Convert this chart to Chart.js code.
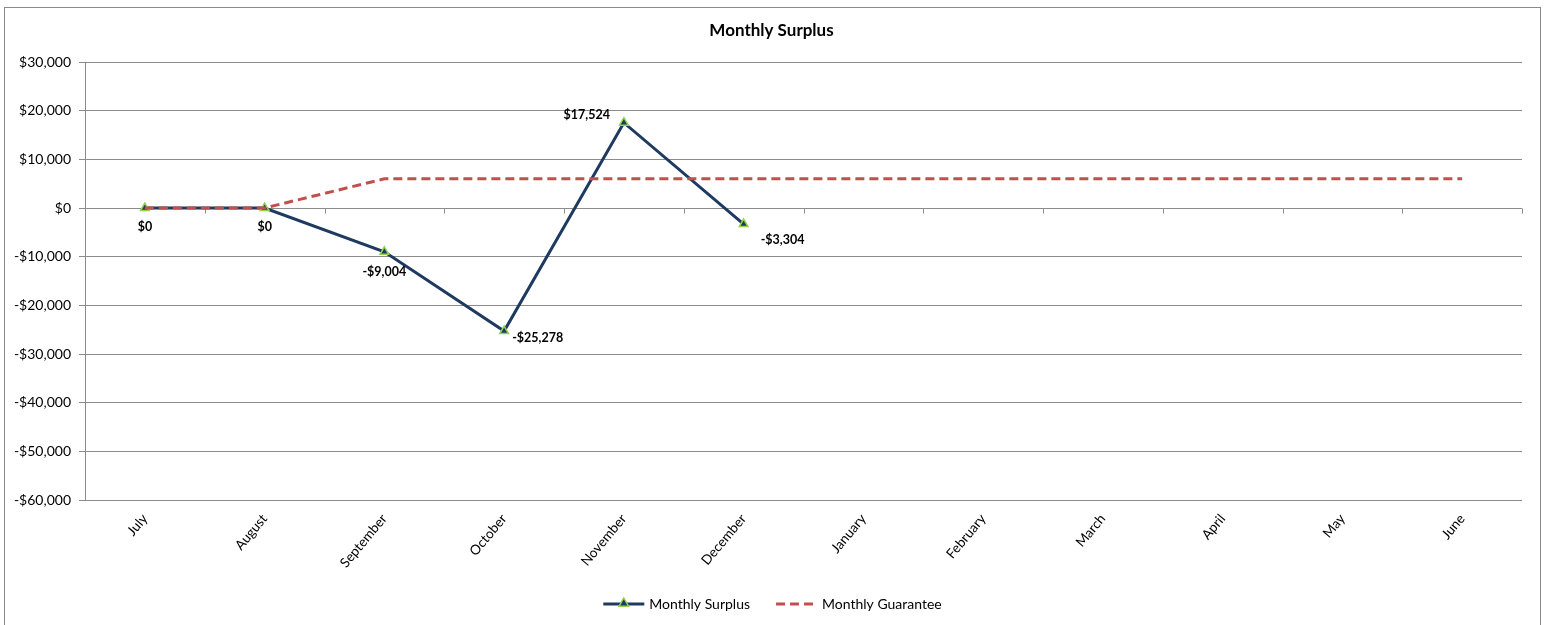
<!DOCTYPE html>
<html><head><meta charset="utf-8">
<script src="https://cdn.jsdelivr.net/npm/chart.js@4"></script>
<style>html,body{margin:0;padding:0;background:#fff;overflow:hidden}</style>
</head><body>
<canvas id="c" width="1547" height="625"></canvas>
<script>
const chartTitle = 'Monthly Surplus';
const months = ['July','August','September','October','November','December','January','February','March','April','May','June'];
const surplus = [0, 0, -9004, -25278, 17524, -3304, null, null, null, null, null, null];
const guarantee = [0, 0, 6000, 6000, 6000, 6000, 6000, 6000, 6000, 6000, 6000, 6000];
const yMin = -60000, yMax = 30000, yStep = 10000;
// data label placement relative to each point: [align, dx, dy]
const labelPlacement = [['center',0,19],['center',0,19],['center',0,20],['left',8,7],['right',-14,-8],['left',17,16]];

const FONT = 'Lato, "Open Sans", sans-serif';
const NAVY = '#1f3a60', RED = '#c0504d', GREEN = '#92d050', GRID = '#8c8c8c';

function money(v){
  const s = '$' + Math.abs(v).toLocaleString('en-US');
  return v < 0 ? '-' + s : s;
}

function triangle(ctx, x, y, r){
  ctx.beginPath();
  ctx.moveTo(x, y - r);
  ctx.lineTo(x + r*0.95, y + r*0.65);
  ctx.lineTo(x - r*0.95, y + r*0.65);
  ctx.closePath();
  ctx.fillStyle = NAVY; ctx.fill();
  ctx.lineWidth = 1.5; ctx.strokeStyle = GREEN; ctx.stroke();
}

const decor = {
  id: 'decor',
  beforeDraw(chart){
    const ctx = chart.ctx;
    ctx.save(); ctx.fillStyle = '#fff'; ctx.fillRect(0,0,chart.width,chart.height); ctx.restore();
  },
  beforeDatasetsDraw(chart){
    const {ctx, scales:{x, y}} = chart;
    const y0 = Math.round(y.getPixelForValue(0)) + 0.5;
    const half = (x.getPixelForValue(1) - x.getPixelForValue(0)) / 2;
    ctx.save();
    ctx.strokeStyle = GRID; ctx.lineWidth = 1;
    for (let i = 0; i <= months.length; i++){
      const px = Math.round(x.getPixelForValue(0) - half + i*2*half) + 0.5;
      ctx.beginPath(); ctx.moveTo(px, y0); ctx.lineTo(px, y0 + 5); ctx.stroke();
    }
    ctx.restore();
  },
  afterDatasetsDraw(chart){
    const ctx = chart.ctx;
    const meta = chart.getDatasetMeta(1);
    ctx.save();
    ctx.font = 'bold 12.5px ' + FONT;
    ctx.fillStyle = '#000';
    ctx.textBaseline = 'middle';
    surplus.forEach((v, i) => {
      if (v === null) return;
      const p = meta.data[i];
      const [align, dx, dy] = labelPlacement[i];
      ctx.textAlign = align;
      ctx.fillText(money(v), p.x + dx, p.y + dy);
    });
    ctx.restore();
  },
  afterDraw(chart){
    const ctx = chart.ctx;
    ctx.save();
    // outer border
    ctx.strokeStyle = '#8a8a8a'; ctx.lineWidth = 1;
    ctx.strokeRect(4.5, 7.5, 1536, 700);
    // title
    ctx.font = 'bold 17px ' + FONT;
    ctx.fillStyle = '#000'; ctx.textAlign = 'center'; ctx.textBaseline = 'middle';
    ctx.fillText(chartTitle, chart.width/2 - 2, 31);
    // legend
    ctx.font = '14px ' + FONT;
    ctx.textAlign = 'left';
    const ds = chart.data.datasets;
    const items = [ds[1], ds[0]];
    const lineLen = 41, gap = 5, itemGap = 26;
    const widths = items.map(d => lineLen + gap + ctx.measureText(d.label).width);
    const total = widths[0] + widths[1] + itemGap;
    let lx = chart.width/2 - total/2 - 1;
    const ly = 604;
    items.forEach((d, k) => {
      ctx.beginPath();
      ctx.strokeStyle = d.borderColor; ctx.lineWidth = 3;
      ctx.setLineDash(d.borderDash || []);
      ctx.moveTo(lx, ly); ctx.lineTo(lx + lineLen, ly); ctx.stroke();
      ctx.setLineDash([]);
      if (d.pointRadius) triangle(ctx, lx + lineLen/2, ly - 1, 5);
      ctx.fillStyle = '#000';
      ctx.fillText(d.label, lx + lineLen + gap, ly);
      lx += widths[k] + itemGap;
    });
    ctx.restore();
  }
};

new Chart(document.getElementById('c'), {
  type: 'line',
  data: {
    labels: months,
    datasets: [
      {
        label: 'Monthly Guarantee',
        data: guarantee,
        borderColor: RED,
        borderWidth: 3,
        borderDash: [9, 5],
        pointRadius: 0,
        tension: 0,
        fill: false
      },
      {
        label: 'Monthly Surplus',
        data: surplus,
        borderColor: NAVY,
        borderWidth: 3,
        pointStyle: 'triangle',
        pointRadius: 5,
        pointBackgroundColor: NAVY,
        pointBorderColor: GREEN,
        pointBorderWidth: 1.5,
        tension: 0,
        fill: false,
        spanGaps: false
      }
    ]
  },
  options: {
    responsive: false,
    animation: false,
    layout: { padding: { top: 62, right: 25, bottom: 45, left: 0 } },
    plugins: { legend: { display: false }, title: { display: false }, tooltip: { enabled: false } },
    scales: {
      x: {
        type: 'category',
        offset: true,
        grid: { display: false, drawTicks: false },
        border: { display: false },
        ticks: { minRotation: 50, maxRotation: 50, padding: 11, color: '#000', font: { family: FONT, size: 13.5 } },
        afterFit(s){ s.height = 80; }
      },
      y: {
        min: yMin, max: yMax,
        ticks: { stepSize: yStep, padding: 8, color: '#000', font: { family: FONT, size: 14 }, callback: v => money(v) },
        grid: { color: GRID, lineWidth: 1, tickLength: 6 },
        border: { display: true, color: GRID, width: 1 },
        afterFit(s){ s.width = 85; }
      }
    }
  },
  plugins: [decor]
});
</script>
</body></html>
